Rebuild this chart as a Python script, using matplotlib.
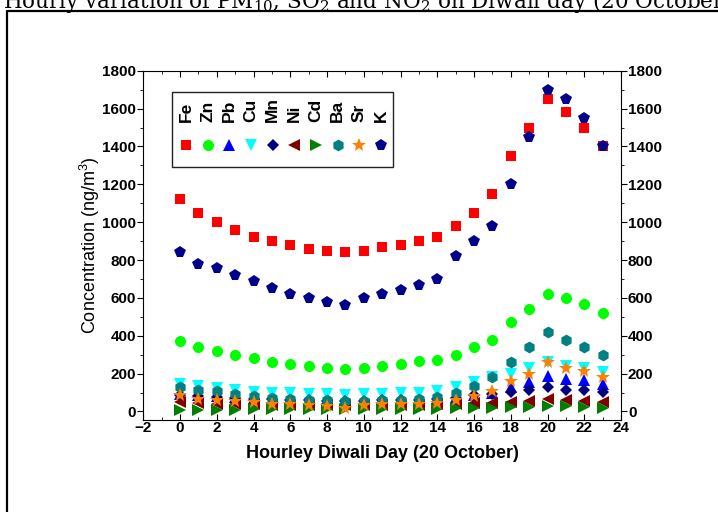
import matplotlib.pyplot as plt
from matplotlib.lines import Line2D
from matplotlib.patches import Rectangle

plt.rcParams['font.family'] = ['Liberation Sans', 'DejaVu Sans']
plt.rcParams['mathtext.fontset'] = 'custom'
plt.rcParams['mathtext.rm'] = 'Liberation Sans'

# hourly values on Diwali day (ng/m3)
hours = list(range(24))
Fe = [1120, 1050, 1000, 960, 920, 900, 880, 860, 850, 840, 850, 870,
      880, 900, 920, 980, 1050, 1150, 1350, 1500, 1650, 1580, 1500, 1400]
Zn = [370, 340, 320, 300, 280, 260, 250, 240, 230, 225, 230, 240,
      250, 265, 270, 300, 340, 380, 470, 540, 620, 600, 570, 520]
Pb = [90, 85, 82, 78, 72, 68, 65, 62, 60, 58, 60, 62,
      64, 66, 70, 75, 85, 100, 129, 156, 186, 174, 165, 143]
Cu = [146, 132, 122, 112, 105, 100, 95, 92, 90, 88, 90, 92,
      95, 98, 106, 129, 158, 180, 199, 227, 262, 239, 232, 209]
Mn = [85, 80, 76, 72, 68, 64, 60, 58, 56, 54, 56, 58,
      60, 62, 66, 70, 85, 94, 103, 115, 129, 115, 112, 103]
Ni = [48, 44, 42, 40, 38, 36, 35, 34, 33, 32, 33, 34,
      35, 36, 38, 41, 44, 44, 50, 55, 65, 58, 55, 50]
Cd = [10, 9, 9, 10, 12, 12, 12, 12, 12, 12, 12, 12,
      13, 13, 14, 16, 18, 20, 22, 25, 30, 28, 25, 18]
Ba = [129, 115, 106, 93, 83, 72, 65, 60, 58, 55, 57, 60,
      62, 66, 79, 97, 136, 182, 261, 339, 422, 378, 339, 300]
Sr = [85, 67, 62, 55, 48, 41, 40, 32, 27, 20, 32, 37,
      40, 42, 44, 58, 81, 108, 161, 200, 262, 232, 212, 182]
K = [840, 780, 760, 720, 690, 650, 620, 600, 580, 560, 600, 620,
     640, 670, 700, 820, 900, 980, 1200, 1450, 1700, 1650, 1550, 1400]

names = ['Fe', 'Zn', 'Pb', 'Cu', 'Mn', 'Ni', 'Cd', 'Ba', 'Sr', 'K']
series = [Fe, Zn, Pb, Cu, Mn, Ni, Cd, Ba, Sr, K]
markers = ['s', 'o', '^', 'v', 'D', '<', '>', 'h', '*', 'p']
colors = ['#ff0000', '#00ff00', '#0000ff', '#00ffff', '#000080',
          '#800000', '#008000', '#008080', '#ff8000', '#00008b']
msizes = [7, 8, 8, 8, 6.5, 8, 8, 8.5, 10, 8.5]

fig = plt.figure(figsize=(7.18, 5.12), dpi=100)
ax = fig.add_axes([0.1996, 0.1797, 0.6653, 0.6822])

for n, y, m, c, s in zip(names, series, markers, colors, msizes):
    ax.plot(hours, y, linestyle='none', marker=m, color=c, ms=s, mew=0)

ax.set_xlim(-2, 24)
ax.set_ylim(-45, 1800)
ax.set_xticks(range(-2, 25, 2))
ax.set_xticks(range(-2, 25, 1), minor=True)
ax.set_yticks(range(0, 1801, 200))
ax.set_yticks(range(0, 1801, 100), minor=True)
ax.tick_params(axis='y', which='both', direction='out', left=True, right=True,
               labelleft=True, labelright=True)
ax.tick_params(axis='x', which='both', direction='in', top=True, bottom=True)
ax.tick_params(which='major', length=4, width=0.8, labelsize=11, pad=1)
ax.tick_params(which='minor', length=2.5, width=0.6)
for lab in ax.get_xticklabels() + ax.get_yticklabels():
    lab.set_fontweight('bold')
for t in ax.yaxis.get_major_ticks():
    t.label2.set_fontweight('bold')

ax.set_xlabel('Hourley Diwali Day (20 October)', fontsize=13, fontweight='bold',
              labelpad=7)
ax.set_ylabel('Concentration (ng/m$^3$)', fontsize=13, labelpad=0)

# legend drawn as vertical labels with the marker underneath
ax.add_patch(Rectangle((0.060, 0.724), 0.463, 0.215, transform=ax.transAxes,
                       fill=False, edgecolor='#222222', lw=1.0, clip_on=False))
for i, (n, m, c, s) in enumerate(zip(names, markers, colors, msizes)):
    x = 0.0894 + i * 0.04536
    ax.text(x, 0.852, n, rotation=90, ha='center', va='bottom', fontsize=12.5,
            fontweight='bold', transform=ax.transAxes)
    ax.plot([x], [0.787], marker=m, color=c, ms=s, mew=0,
            transform=ax.transAxes, clip_on=False)

# surrounding page elements (title is cut by the top edge as in the page)
fig.text(0.511, 0.997, 'Hourly variation of PM$_{10}$, SO$_2$ and NO$_2$ on Diwali day (20 October)',
         ha='center', va='center', fontsize=15.5, family='DejaVu Serif',
         math_fontfamily='dejavuserif')
fig.add_artist(Line2D([7 / 718, 7 / 718, 1.01], [-0.01, 1 - 11 / 512, 1 - 11 / 512],
                      transform=fig.transFigure, color='black', lw=1.6))

fig.savefig('out.png', dpi=100)
